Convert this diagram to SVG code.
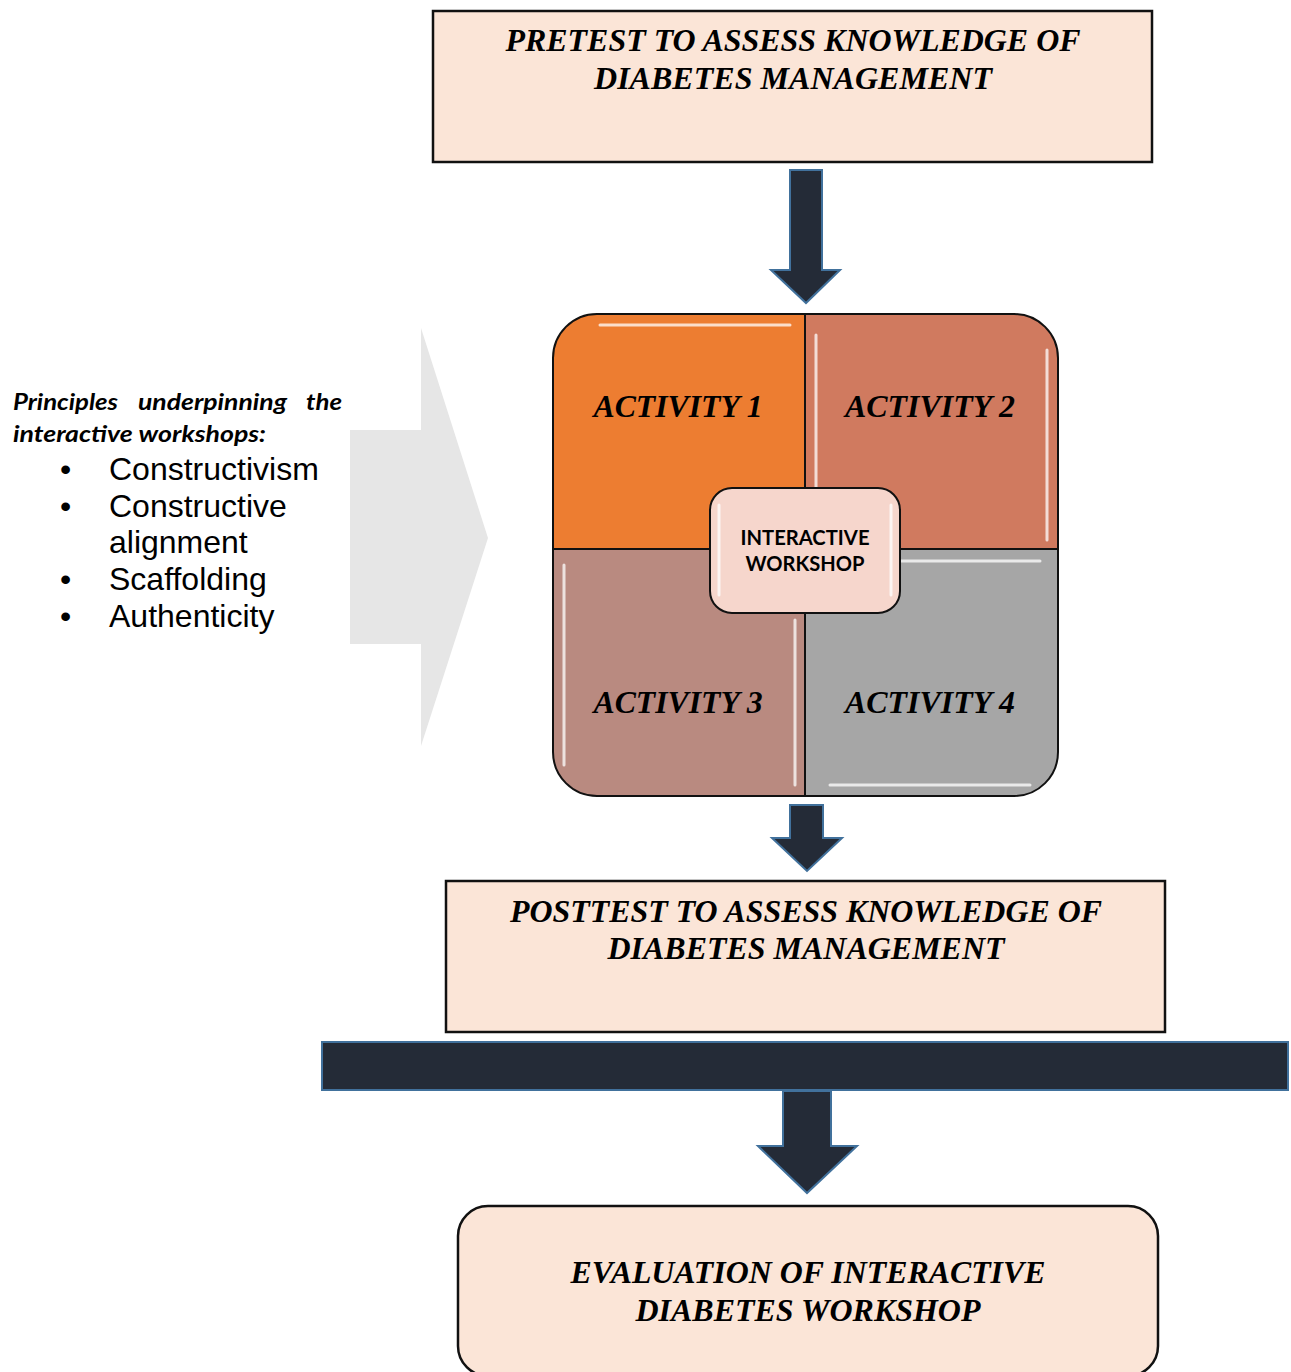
<svg xmlns="http://www.w3.org/2000/svg" width="1291" height="1372" viewBox="0 0 1291 1372">
<style>
.box{fill:#FBE5D7;stroke:#111;stroke-width:2.5}
.title{font-family:"Liberation Serif","Times New Roman",serif;font-weight:bold;font-style:italic;font-size:31px;fill:#000;text-anchor:middle}
.act{font-family:"Liberation Serif","Times New Roman",serif;font-weight:bold;font-style:italic;font-size:32px;fill:#000;text-anchor:middle}
.dark{fill:#242B37;stroke:#41719C;stroke-width:2}
.hl{stroke:#fff;stroke-width:3;stroke-linecap:round;fill:none;opacity:0.75}
.prin{font-family:Lato,"Open Sans",sans-serif;font-weight:bold;font-style:italic;font-size:23px;fill:#000}
.bul{font-family:"Liberation Sans",Arial,sans-serif;font-size:32px;fill:#000}
.ctr{font-family:Lato,"Open Sans",sans-serif;font-weight:bold;font-size:20px;fill:#000;text-anchor:middle}
</style>
<defs>
<clipPath id="outerClip"><rect x="553" y="314" width="505" height="482" rx="44" ry="44"/></clipPath>
</defs>

<g id="principles-arrow">
<polygon points="350,430 421,430 421,328 488,538 421,746 421,644 350,644" fill="#E6E6E6"/>
</g>

<g id="principles">
<text class="prin" x="13" y="410" textLength="105" lengthAdjust="spacingAndGlyphs">Principles</text>
<text class="prin" x="138" y="410" textLength="149" lengthAdjust="spacingAndGlyphs">underpinning</text>
<text class="prin" x="306" y="410" textLength="36" lengthAdjust="spacingAndGlyphs">the</text>
<text class="prin" x="13" y="442" textLength="253" lengthAdjust="spacingAndGlyphs">interactive workshops:</text>
<text class="bul" x="60" y="480">•</text>
<text class="bul" x="109" y="480">Constructivism</text>
<text class="bul" x="60" y="517">•</text>
<text class="bul" x="109" y="517">Constructive</text>
<text class="bul" x="109" y="553">alignment</text>
<text class="bul" x="60" y="590">•</text>
<text class="bul" x="109" y="590">Scaffolding</text>
<text class="bul" x="60" y="627">•</text>
<text class="bul" x="109" y="627">Authenticity</text>
</g>

<g id="pretest">
<rect class="box" x="433" y="11" width="719" height="151"/>
<text class="title" x="793" y="51" textLength="575" lengthAdjust="spacingAndGlyphs">PRETEST TO ASSESS KNOWLEDGE OF</text>
<text class="title" x="793" y="89" textLength="398" lengthAdjust="spacingAndGlyphs">DIABETES MANAGEMENT</text>
</g>

<g id="workshop">
<g clip-path="url(#outerClip)">
<rect id="activity1-bg" x="553" y="314" width="252" height="235" fill="#ED7D31"/>
<rect id="activity2-bg" x="805" y="314" width="253" height="235" fill="#D07A5F"/>
<rect id="activity3-bg" x="553" y="549" width="252" height="247" fill="#B98A80"/>
<rect id="activity4-bg" x="805" y="549" width="253" height="247" fill="#A6A6A6"/>
<line class="hl" x1="600" y1="325" x2="790" y2="325"/>
<line class="hl" x1="816" y1="335" x2="816" y2="540"/>
<line class="hl" x1="1047" y1="350" x2="1047" y2="540"/>
<line class="hl" x1="564" y1="565" x2="564" y2="765"/>
<line class="hl" x1="795" y1="620" x2="795" y2="785"/>
<line class="hl" x1="900" y1="561" x2="1040" y2="561"/>
<line class="hl" x1="830" y1="785" x2="1030" y2="785"/>
</g>
<rect x="553" y="314" width="505" height="482" rx="44" ry="44" fill="none" stroke="#111" stroke-width="2"/>
<line x1="805" y1="314" x2="805" y2="796" stroke="#111" stroke-width="2"/>
<line x1="553" y1="549" x2="1058" y2="549" stroke="#111" stroke-width="2"/>
<g id="activity1"><text class="act" x="678" y="417" textLength="169" lengthAdjust="spacingAndGlyphs">ACTIVITY 1</text></g>
<g id="activity2"><text class="act" x="930" y="417" textLength="170" lengthAdjust="spacingAndGlyphs">ACTIVITY 2</text></g>
<g id="activity3"><text class="act" x="678" y="713" textLength="169" lengthAdjust="spacingAndGlyphs">ACTIVITY 3</text></g>
<g id="activity4"><text class="act" x="930" y="713" textLength="170" lengthAdjust="spacingAndGlyphs">ACTIVITY 4</text></g>
<g id="interactive-workshop">
<rect x="710" y="488" width="190" height="125" rx="22" ry="22" fill="#F6D6CC" stroke="#111" stroke-width="2"/>
<line class="hl" x1="719" y1="505" x2="719" y2="595"/>
<line class="hl" x1="891" y1="505" x2="891" y2="595"/>
<text class="ctr" x="805" y="545" textLength="129" lengthAdjust="spacingAndGlyphs">INTERACTIVE</text>
<text class="ctr" x="805" y="571" textLength="119" lengthAdjust="spacingAndGlyphs">WORKSHOP</text>
</g>
</g>

<g id="posttest">
<rect class="box" x="446" y="881" width="719" height="151"/>
<text class="title" x="806" y="922" textLength="592" lengthAdjust="spacingAndGlyphs">POSTTEST TO ASSESS KNOWLEDGE OF</text>
<text class="title" x="806" y="959" textLength="397" lengthAdjust="spacingAndGlyphs">DIABETES MANAGEMENT</text>
</g>

<g id="bar">
<rect class="dark" x="322" y="1042" width="966" height="48"/>
</g>

<g id="evaluation">
<rect class="box" x="458" y="1206" width="700" height="170" rx="30" ry="30" stroke-width="2.5"/>
<text class="title" x="808" y="1283" textLength="475" lengthAdjust="spacingAndGlyphs">EVALUATION OF INTERACTIVE</text>
<text class="title" x="808" y="1321" textLength="345" lengthAdjust="spacingAndGlyphs">DIABETES WORKSHOP</text>
</g>

<g id="connectors">
<polygon class="dark" points="790,170 822,170 822,270 840,270 806,303 771,270 790,270"/>
<polygon class="dark" points="790,805 823,805 823,838 842,838 807,871 772,838 790,838"/>
<polygon class="dark" points="783,1091 831,1091 831,1146 857,1146 807,1193 758,1146 783,1146"/>
</g>
</svg>
